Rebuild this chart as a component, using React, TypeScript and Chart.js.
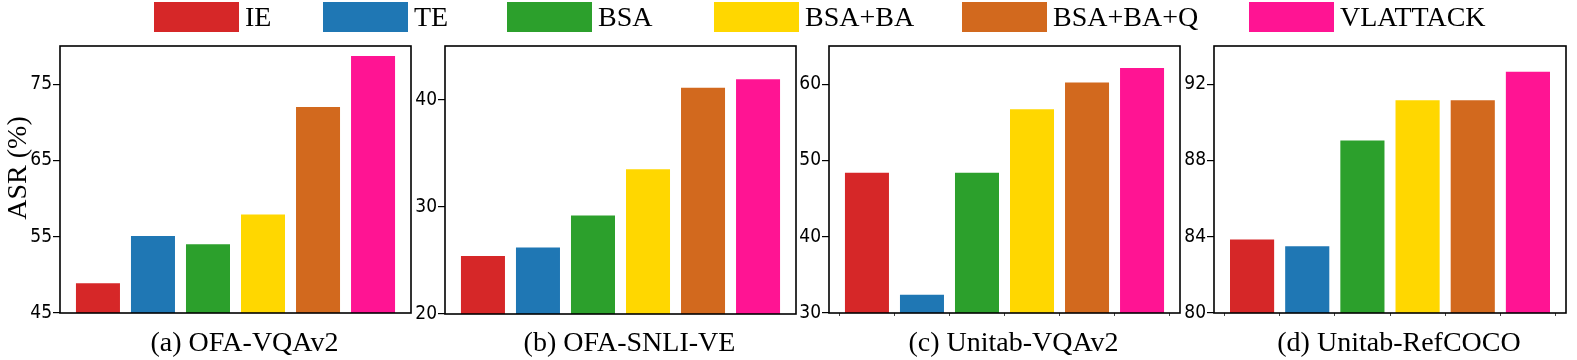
import React, { useEffect, useRef } from "react";
import { Chart, registerables } from "chart.js";

Chart.register(...registerables);

// ---- data ----
const methods = ["IE", "TE", "BSA", "BSA+BA", "BSA+BA+Q", "VLATTACK"];
const methodColors = ["#d62728", "#1f77b4", "#2ca02c", "#ffd700", "#d2691e", "#ff1493"];

const ofaVqaValues = [48.9, 55.1, 54.0, 57.9, 72.0, 78.7];
const ofaSnliValues = [25.4, 26.2, 29.2, 33.5, 41.1, 41.9];
const unitabVqaValues = [48.4, 32.4, 48.4, 56.7, 60.2, 62.1];
const unitabRefValues = [83.85, 83.5, 89.05, 91.15, 91.15, 92.65];

const ofaVqaTicks = [45, 55, 65, 75];
const ofaSnliTicks = [20, 30, 40];
const unitabVqaTicks = [30, 40, 50, 60];
const unitabRefTicks = [80, 84, 88, 92];

const captions = ["(a) OFA-VQAv2", "(b) OFA-SNLI-VE", "(c) Unitab-VQAv2", "(d) Unitab-RefCOCO"];
const yTitle = "ASR (%)";

// ---- layout (styles, not data) ----
const LEGEND_LEFTS = [154, 323, 507, 714, 962, 1249];

type Panel = {
  caption: string;
  values: number[];
  ticks: number[];
  min: number;
  max: number;
  boxLeft: number;
  boxRight: number;
  boxBottom: number;
  xMarks: boolean;
  showYTitle: boolean;
};

const panels: Panel[] = [
  { caption: captions[0], values: ofaVqaValues, ticks: ofaVqaTicks, min: 45, max: 80, boxLeft: 60, boxRight: 411, boxBottom: 313, xMarks: false, showYTitle: true },
  { caption: captions[1], values: ofaSnliValues, ticks: ofaSnliTicks, min: 20, max: 45, boxLeft: 445, boxRight: 796, boxBottom: 314, xMarks: false, showYTitle: false },
  { caption: captions[2], values: unitabVqaValues, ticks: unitabVqaTicks, min: 30, max: 65, boxLeft: 829, boxRight: 1180, boxBottom: 313, xMarks: true, showYTitle: false },
  { caption: captions[3], values: unitabRefValues, ticks: unitabRefTicks, min: 80, max: 94, boxLeft: 1214, boxRight: 1566, boxBottom: 313, xMarks: true, showYTitle: false },
];

const BOX_TOP = 46;
const Y_AXIS_W = 60;
const RIGHT_PAD = 6;
const CANVAS_H = 360;
const SERIF = "'Liberation Serif', 'Times New Roman', serif";

function PanelChart({ panel }: { panel: Panel }) {
  const ref = useRef<HTMLCanvasElement | null>(null);
  const width = Y_AXIS_W + (panel.boxRight - panel.boxLeft) + RIGHT_PAD;
  const left = panel.boxLeft - Y_AXIS_W;

  useEffect(() => {
    if (!ref.current) return;
    const framePlugin = {
      id: "frame",
      afterDatasetsDraw(chart: any) {
        const { ctx, chartArea } = chart;
        ctx.save();
        ctx.strokeStyle = "#000";
        ctx.lineWidth = 1.6;
        ctx.strokeRect(chartArea.left, chartArea.top, chartArea.right - chartArea.left, chartArea.bottom - chartArea.top);
        ctx.restore();
      },
      afterDraw(chart: any) {
        const { ctx, chartArea } = chart;
        ctx.save();
        ctx.fillStyle = "#000";
        ctx.font = "28px " + SERIF;
        ctx.textAlign = "center";
        ctx.textBaseline = "alphabetic";
        ctx.fillText(panel.caption, (chartArea.left + chartArea.right) / 2 + 9, 351);
        if (panel.showYTitle) {
          ctx.translate(25.5, 168);
          ctx.rotate(-Math.PI / 2);
          ctx.fillText(yTitle, 0, 0);
        }
        ctx.restore();
      },
    };

    const chart = new Chart(ref.current, {
      type: "bar",
      data: {
        datasets: [
          {
            data: panel.values.map((v, i) => ({ x: i, y: v })),
            backgroundColor: methodColors,
            borderWidth: 0,
            categoryPercentage: 0.8,
            barPercentage: 1,
            clip: 0,
          } as any,
        ],
      },
      options: {
        animation: false,
        responsive: false,
        maintainAspectRatio: false,
        layout: { padding: { top: BOX_TOP, right: RIGHT_PAD, left: 0, bottom: 0 } },
        plugins: { legend: { display: false }, tooltip: { enabled: false }, title: { display: false } },
        scales: {
          x: {
            type: "linear",
            offset: false,
            min: -0.69,
            max: 5.69,
            afterBuildTicks: (scale: any) => {
              scale.ticks = methods.map((_, i) => ({ value: i }));
            },
            afterFit: (scale: any) => {
              scale.height = CANVAS_H - panel.boxBottom;
            },
            ticks: { display: false },
            grid: {
              display: panel.xMarks,
              drawOnChartArea: false,
              drawTicks: true,
              tickLength: 3,
              color: "#444",
              lineWidth: 1,
            },
            border: { display: false },
          },
          y: {
            type: "linear",
            min: panel.min,
            max: panel.max,
            afterBuildTicks: (scale: any) => {
              scale.ticks = panel.ticks.map((v) => ({ value: v }));
            },
            afterFit: (scale: any) => {
              scale.width = Y_AXIS_W;
            },
            ticks: {
              padding: 1,
              color: "#000",
              font: { family: "'DejaVu Sans Condensed', 'DejaVu Sans', sans-serif", size: 19 },
            },
            grid: {
              display: true,
              drawOnChartArea: false,
              drawTicks: true,
              tickLength: 7,
              color: "#000",
              lineWidth: 1.2,
            },
            border: { display: false },
          },
        },
      },
      plugins: [framePlugin],
    } as any);
    return () => chart.destroy();
  }, [panel]);

  return (
    <canvas
      ref={ref}
      width={width}
      height={CANVAS_H}
      style={{ position: "absolute", left, top: 0, width, height: CANVAS_H }}
    />
  );
}

function Legend() {
  return (
    <>
      {methods.map((m, i) => (
        <div
          key={m}
          style={{
            position: "absolute",
            left: LEGEND_LEFTS[i],
            top: 2,
            display: "flex",
            alignItems: "center",
            height: 30,
            fontFamily: SERIF,
            fontSize: 28,
            color: "#000",
            whiteSpace: "nowrap",
          }}
        >
          <div style={{ width: 85, height: 30, background: methodColors[i] }} />
          <span style={{ marginLeft: 6, lineHeight: "30px" }}>{m}</span>
        </div>
      ))}
    </>
  );
}

export default function App() {
  return (
    <div style={{ position: "absolute", left: 0, top: 0, width: 1577, height: 360, background: "#fff", overflow: "hidden" }}>
      {panels.map((p) => (
        <PanelChart key={p.caption} panel={p} />
      ))}
      <Legend />
    </div>
  );
}
